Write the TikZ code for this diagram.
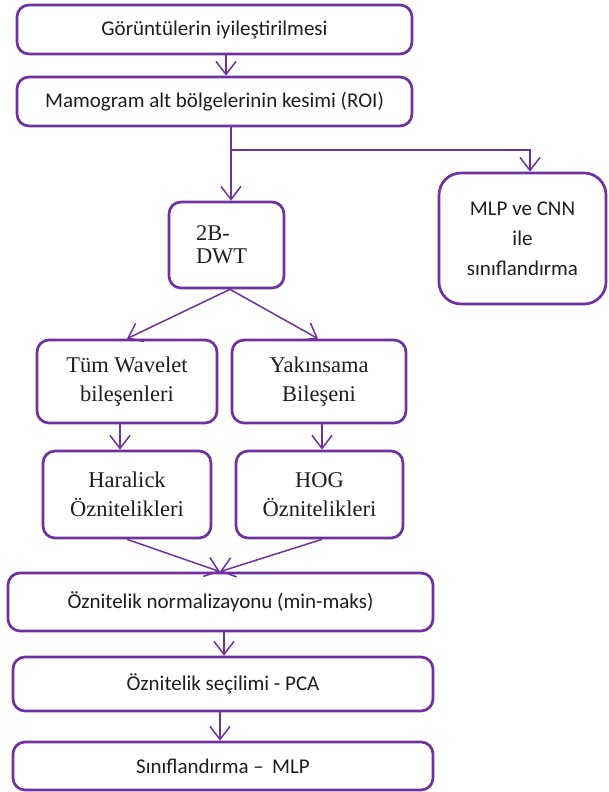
\documentclass[tikz,border=0pt]{standalone}
\usepackage{fontspec}
\setmainfont{Carlito}
\newfontfamily\serifbox{Liberation Serif}
\usetikzlibrary{arrows.meta,calc}
\definecolor{purp}{RGB}{112,48,160}
\definecolor{txt}{RGB}{30,30,30}
\tikzset{
  box/.style={draw=purp,line width=2.7pt,rounded corners=12pt,inner sep=0pt,align=center,text=txt,font=\fontsize{21}{25}\selectfont},
  sbox/.style={box,font=\serifbox\fontsize{22.5}{29}\selectfont},
  arr/.style={draw=purp,line width=1.5pt,-{Straight Barb[length=13pt,width=20pt,line width=1.5pt]}},
  ln/.style={draw=purp,line width=1.5pt}
}
\begin{document}
\begin{tikzpicture}[x=1pt,y=-1pt]
\useasboundingbox (0,0) rectangle (608,792);
\node[box,minimum width=395pt,minimum height=49pt] (b1) at (214.5,29.5) {Görüntülerin iyileştirilmesi};
\node[box,minimum width=395pt,minimum height=49pt] (b2) at (214.5,101.5) {Mamogram alt bölgelerinin kesimi (ROI)};
\node[sbox,minimum width=115pt,minimum height=86pt,align=left,text width=61pt,font=\serifbox\fontsize{22.5}{23}\selectfont] (dwt) at (226.5,245) {2B-\\DWT};
\node[box,minimum width=167pt,minimum height=131pt,rounded corners=22pt,font=\fontsize{21}{30}\selectfont] (mlp) at (522.5,238.5) {MLP ve CNN\\ile\\sınıflandırma};
\node[sbox,minimum width=180pt,minimum height=83pt] (tum) at (127,381.5) {Tüm Wavelet\\bileşenleri};
\node[sbox,minimum width=174pt,minimum height=83pt] (yak) at (319,381.5) {Yakınsama\\Bileşeni};
\node[sbox,minimum width=168pt,minimum height=87pt] (har) at (127,494.5) {Haralick\\Öznitelikleri};
\node[sbox,minimum width=167pt,minimum height=87pt] (hog) at (319.5,494.5) {HOG\\Öznitelikleri};
\node[box,minimum width=425pt,minimum height=58pt] (norm) at (220.5,602) {Öznitelik normalizayonu (min-maks)};
\node[box,minimum width=420pt,minimum height=54pt] (pca) at (223,684) {Öznitelik seçilimi - PCA};
\node[box,minimum width=420pt,minimum height=48pt] (last) at (223,766) {Sınıflandırma –\, MLP};
\coordinate (br) at ([xshift=16.5pt]b2.south |- 0,150);
\draw[arr] ([xshift=11.5pt]b1.south) -- ([xshift=11.5pt]b2.north);
\draw[arr] ([xshift=16.5pt]b2.south) -- ([xshift=4.5pt]dwt.north);
\draw[arr] (br) -| ([xshift=7.5pt]mlp.north);
\draw[arr] ([xshift=3.5pt]dwt.south) -- (tum.north);
\draw[arr] ([xshift=3.5pt]dwt.south) -- ([xshift=-1pt]yak.north);
\draw[arr] ([xshift=-7pt]tum.south) -- ([xshift=-7pt]har.north);
\draw[arr] ([xshift=3pt]yak.south) -- ([xshift=2.5pt]hog.north);
\draw[arr] (har.south) -- ([xshift=-0.5pt]norm.north);
\draw[arr] ([xshift=2.5pt]hog.south) -- ([xshift=-0.5pt]norm.north);
\draw[arr] ([xshift=3.5pt]norm.south) -- ([xshift=1pt]pca.north);
\draw[arr] ([xshift=-3pt]pca.south) -- ([xshift=-3pt]last.north);
\end{tikzpicture}
\end{document}
